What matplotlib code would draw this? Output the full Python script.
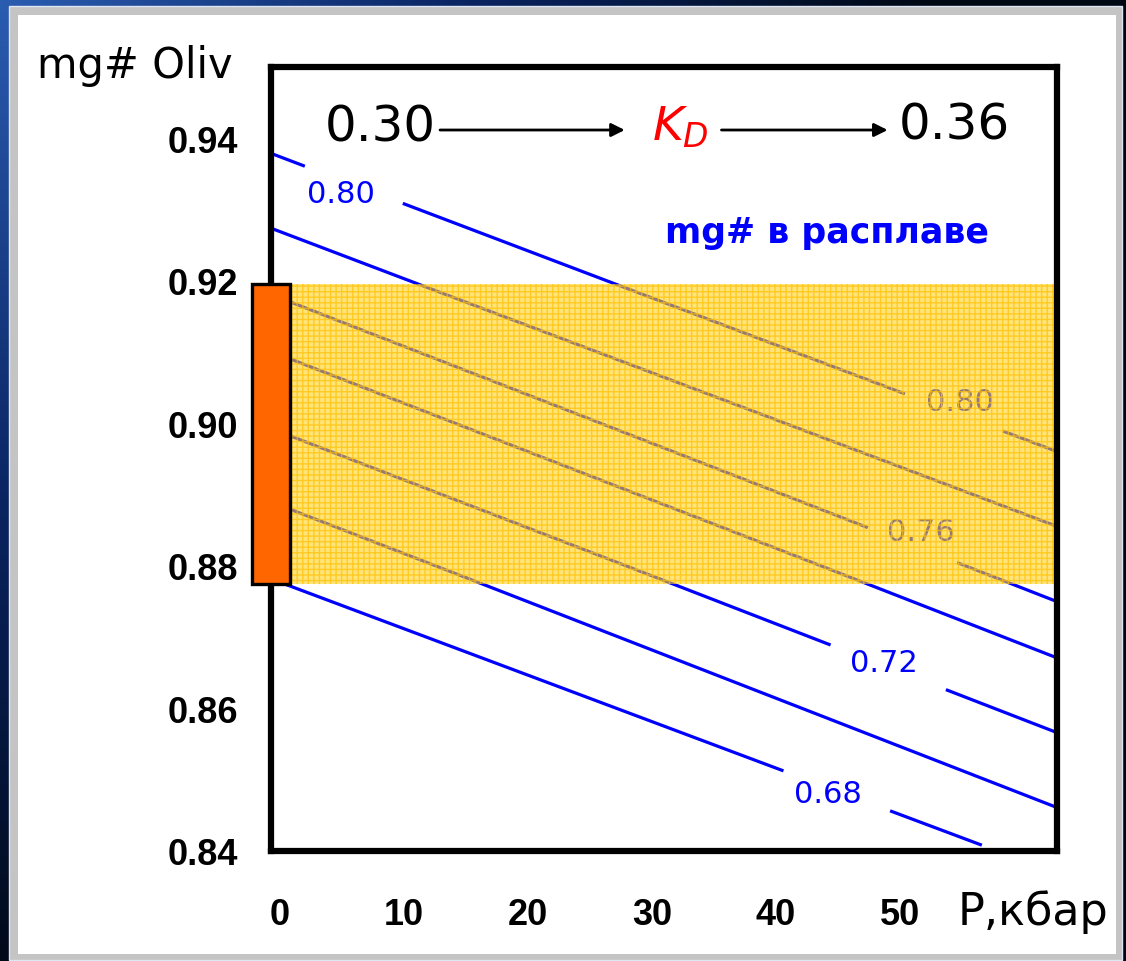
import numpy as np
import matplotlib
matplotlib.use("Agg")
import matplotlib.pyplot as plt
from matplotlib.patches import Rectangle
from matplotlib.colors import LinearSegmentedColormap

# mg# of melt for each isoline
melt_mg = [0.80, 0.78, 0.76, 0.74, 0.72, 0.70, 0.68]
# mg# of olivine on each isoline, read at P = 0 and P = 60 kbar
oliv_at_0 = [0.9374, 0.9269, 0.9176, 0.9096, 0.8988, 0.8885, 0.8777]
oliv_at_60 = [0.8978, 0.8873, 0.8768, 0.8689, 0.8584, 0.8479, 0.8386]

# observed range of olivine compositions
oliv_low, oliv_high = 0.8775, 0.9195

p_ticks = [0, 10, 20, 30, 40, 50]
mg_ticks = [0.84, 0.86, 0.88, 0.90, 0.92, 0.94]
kd_start, kd_end = "0.30", "0.36"

# where the isolines are broken for their labels (kbar), and label spots
gaps = {0.80: [(2.0, 9.9), (50.4, 58.3)], 0.76: [(47.4, 54.6)],
        0.72: [(44.4, 53.7)], 0.68: [(40.6, 49.2)]}
line_end = {0.68: 56.6}
labels = [(0.80, 4.9, 0.9323), (0.80, 54.8, 0.9030), (0.76, 51.7, 0.8848),
          (0.72, 48.7, 0.8664), (0.68, 44.2, 0.8480)]

W, H = 1126, 962
fig = plt.figure(figsize=(W / 100, H / 100), dpi=100)

# slide frame: dark blue gradient, grey rim, white sheet
bg = fig.add_axes([0, 0, 1, 1], zorder=-10)
gx, gy = np.meshgrid(np.linspace(0, 1, 300), np.linspace(0, 1, 300))
shade = np.clip(1 - 1.2 * np.hypot(gx, gy * 0.8), 0, 1)
cmap = LinearSegmentedColormap.from_list("frame", ["#000814", "#0a2462", "#2a5cb0"])
bg.imshow(shade, cmap=cmap, extent=[0, 1, 0, 1], origin="upper", aspect="auto")
bg.add_patch(Rectangle((9 / W, 1 - 961 / H), 1113 / W, 954 / H,
                       transform=bg.transAxes, facecolor="#c4c4c4", edgecolor="#dde6f5", lw=1))
bg.add_patch(Rectangle((18 / W, 1 - 955 / H), 1098 / W, 939 / H,
                       transform=bg.transAxes, facecolor="white", lw=0))
bg.set_xlim(0, 1)
bg.set_ylim(0, 1)
bg.axis("off")

ax = fig.add_axes([271 / W, 1 - 852 / H, 786 / W, 784 / H])
ax.set_xlim(-0.73, 62.66)
ax.set_ylim(0.84, 0.95)

blue = "#0000ff"
for mg, y0, y60 in zip(melt_mg, oliv_at_0, oliv_at_60):
    stops = [-1.0]
    for a, b in gaps.get(mg, []):
        stops += [a, b]
    stops.append(line_end.get(mg, 64.0))
    for i in range(0, len(stops), 2):
        p = np.array([stops[i], stops[i + 1]])
        ax.plot(p, y0 + (y60 - y0) * p / 60, color=blue, lw=2.3,
                solid_capstyle="butt", zorder=2)

for mg, p, y in labels:
    ax.text(p, y, f"{mg:.2f}", color=blue, fontsize=22, ha="center", va="center",
            family="DejaVu Sans", zorder=2.1)

# the band of olivine compositions, laid over the isolines
ax.axhspan(oliv_low, oliv_high, facecolor="#ffd21a", alpha=0.58, lw=0, zorder=2.3)
plt.rcParams["hatch.linewidth"] = 1.0
ax.axhspan(oliv_low, oliv_high, facecolor="none", edgecolor="#ffc000", hatch="+++",
           alpha=0.7, lw=0, zorder=2.35)

ax.add_patch(Rectangle((-2.26, oliv_low), 3.07, oliv_high - oliv_low,
                       facecolor="#ff6600", edgecolor="black", lw=2.4,
                       clip_on=False, zorder=6))

for s in ax.spines.values():
    s.set_linewidth(4.5)
    s.set_zorder(5)

ax.set_xticks(p_ticks)
ax.set_yticks(mg_ticks)
ax.set_yticklabels([f"{v:.2f}" for v in mg_ticks])
ax.tick_params(length=0)
ax.tick_params(axis="y", pad=24)
ax.tick_params(axis="x", pad=33)
for t in ax.get_xticklabels() + ax.get_yticklabels():
    t.set_family("Liberation Sans")
    t.set_fontweight("bold")
    t.set_fontsize(26)

# K_D rising with pressure
ax.text(8.1, 0.9417, kd_start, fontsize=36, ha="center", va="center", family="DejaVu Sans")
ax.text(54.4, 0.9420, kd_end, fontsize=36, ha="center", va="center", family="DejaVu Sans")
plt.rcParams["mathtext.fontset"] = "dejavusans"
ax.text(32.3, 0.9416, r"$K_D$", color="red", fontsize=34, ha="center", va="center")
arrow = dict(arrowstyle="-|>", color="black", lw=2, mutation_scale=20, shrinkA=0, shrinkB=0)
ax.annotate("", xy=(27.8, 0.94116), xytext=(12.9, 0.94116), arrowprops=arrow)
ax.annotate("", xy=(49.0, 0.94116), xytext=(35.6, 0.94116), arrowprops=arrow)

ax.text(44.1, 0.9268, "mg# в расплаве", color=blue, fontsize=25, fontweight="bold",
        ha="center", va="center", family="DejaVu Sans")

fig.text(37 / W, 1 - 78 / H, "mg# Oliv", fontsize=30, va="baseline", family="DejaVu Sans")
fig.text(958 / W, 1 - 925 / H, "P,кбар", fontsize=32, va="baseline", family="DejaVu Sans")

fig.savefig("out.png", dpi=100)
